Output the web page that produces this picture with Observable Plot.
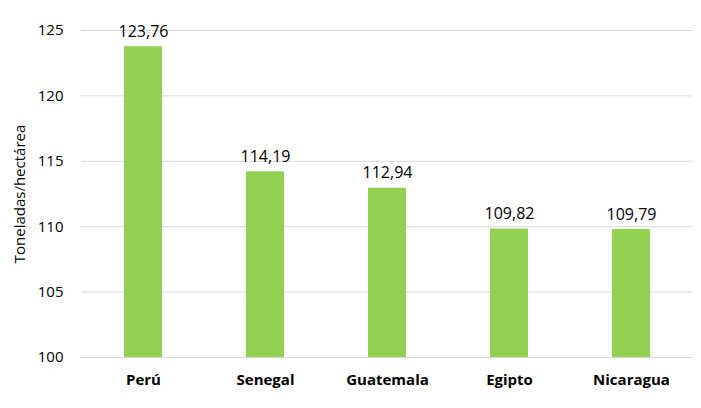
<!DOCTYPE html>
<html>
<head>
<meta charset="utf-8">
<script src="https://cdn.jsdelivr.net/npm/d3@7"></script>
<script src="https://cdn.jsdelivr.net/npm/@observablehq/plot@0.6"></script>
<style>
  html, body { margin: 0; padding: 0; background: #fff; }
  #chart svg { display: block; }
</style>
</head>
<body>
<div id="chart"></div>
<script>
const countries = ["Perú", "Senegal", "Guatemala", "Egipto", "Nicaragua"];
const values = [123.76, 114.19, 112.94, 109.82, 109.79];
const yTicks = [100, 105, 110, 115, 120, 125];
const yLabel = "Toneladas/hectárea";

const data = countries.map((c, i) => ({country: c, value: values[i]}));
const fmt = v => v.toFixed(2).replace(".", ",");

const chart = Plot.plot({
  width: 701,
  height: 408,
  marginTop: 30,
  marginBottom: 51,
  marginLeft: 81,
  marginRight: 9,
  style: {fontFamily: "'Open Sans', sans-serif", fontSize: "14px", color: "#000", background: "#fff"},
  x: {domain: countries, paddingInner: 0.69, paddingOuter: 0.345, label: null, tickSize: 0},
  y: {domain: [100, 125], ticks: yTicks, label: null, tickSize: 0},
  marks: [
    Plot.gridY(yTicks, {stroke: "#d9d9d9", strokeOpacity: 1, strokeWidth: 1}),
    Plot.barY(data, {x: "country", y1: 100, y2: "value", fill: "#92D050"}),
    Plot.text(data, {x: "country", y: "value", text: d => fmt(d.value), dy: -15, fontSize: 16, fill: "#000"}),
    Plot.axisY(yTicks, {tickSize: 0, tickPadding: 18, fontSize: 15, label: null}),
    Plot.axisX({tickSize: 0, tickPadding: 17, fontSize: 15, fontWeight: "bold", label: null}),
    Plot.text([yLabel], {frameAnchor: "left", textAnchor: "middle", dx: -61, rotate: -90, fontSize: 15, fill: "#000"})
  ]
});
document.getElementById("chart").appendChild(chart);
</script>
</body>
</html>
